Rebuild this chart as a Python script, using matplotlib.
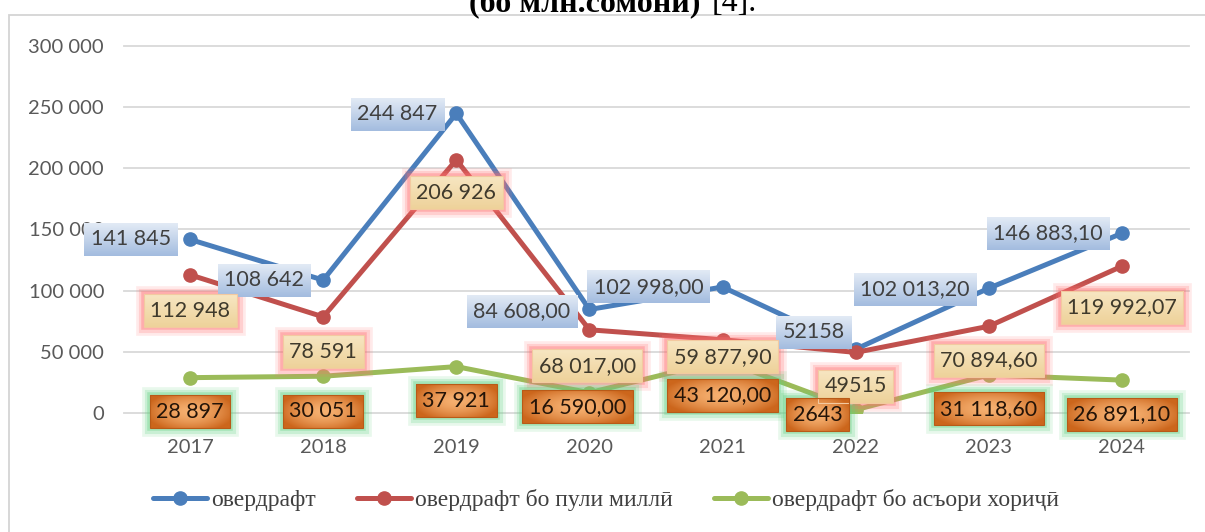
import numpy as np
import matplotlib
matplotlib.use("Agg")
import matplotlib.pyplot as plt
from matplotlib.patches import Rectangle
from matplotlib.colors import to_rgb

# =========================
# Data
# =========================

years = ["2017", "2018", "2019", "2020", "2021", "2022", "2023", "2024"]

overdraft = [141845, 108642, 244847, 84608.00, 102998.00, 52158, 102013.20, 146883.10]
overdraft_national = [112948, 78591, 206926, 68017.00, 59877.90, 49515, 70894.60, 119992.07]
overdraft_foreign = [28897, 30051, 37921, 16590.00, 43120.00, 2643, 31118.60, 26891.10]

labels_overdraft = ["141 845", "108 642", "244 847", "84 608,00", "102 998,00",
                    "52158", "102 013,20", "146 883,10"]
labels_national = ["112 948", "78 591", "206 926", "68 017,00", "59 877,90",
                   "49515", "70 894,60", "119 992,07"]
labels_foreign = ["28 897", "30 051", "37 921", "16 590,00", "43 120,00",
                  "2643", "31 118,60", "26 891,10"]

series_names = ["овердрафт", "овердрафт бо пули миллӣ", "овердрафт бо асъори хориҷӣ"]

y_ticks = [0, 50000, 100000, 150000, 200000, 250000, 300000]
y_tick_labels = ["0", "50 000", "100 000", "150 000", "200 000", "250 000", "300 000"]

# label offsets in pixels (x, y)
off_blue = [(-19, 0), (-19, 0), (-19, -1), (-19, -2), (-19, 0), (-11, 17), (-19, -1), (-19, 0)]
off_red = [(0, -36), (0, -35), (0, -33), (-2, -36), (0, -17), (0, -34), (0, -34), (0, -41)]
off_green = [(0, -34), (0, -35), (0, -34), (-12, -14), (0, -35), (-38, -5), (0, -34), (0, -34)]

blue = "#4a7ebb"
red = "#c0504d"
green = "#9bbb59"

W, H = 1205, 532

fig = plt.figure(figsize=(W / 100, H / 100), dpi=100)
fig.patch.set_facecolor("white")

ax = fig.add_axes([123.5 / W, 119 / H, 1065 / W, 367 / H])

x = np.arange(len(years))

ax.plot(x, overdraft, color=blue, lw=3.6, marker="o", ms=9.5, zorder=3,
        label=series_names[0], solid_capstyle="round")
ax.plot(x, overdraft_national, color=red, lw=3.6, marker="o", ms=9.5, zorder=3,
        label=series_names[1], solid_capstyle="round")
ax.plot(x, overdraft_foreign, color=green, lw=3.6, marker="o", ms=9.5, zorder=3,
        label=series_names[2], solid_capstyle="round")

ax.set_xlim(-0.5, len(years) - 0.5)
ax.set_ylim(0, 300000)

ax.set_yticks(y_ticks)
ax.set_yticklabels(y_tick_labels)
ax.set_xticks(x)
ax.set_xticklabels(years)

ax.yaxis.grid(True, color="#d9d9d9", lw=1.3)
for gl in ax.get_ygridlines():
    gl.set_clip_on(False)
ax.set_axisbelow(True)

for s in ax.spines.values():
    s.set_visible(False)

ax.tick_params(length=0, labelcolor="#595959", labelsize=14.5)
ax.tick_params(axis="y", pad=14)
ax.tick_params(axis="x", pad=19)
for lab in ax.get_xticklabels() + ax.get_yticklabels():
    lab.set_fontfamily("Lato")

# =========================
# Data labels
# =========================

label_font = dict(family="Lato", size=15.5)


def add_labels(values, texts, offsets, ha, color):
    anns = []
    for i in range(len(values)):
        a = ax.annotate(
            texts[i],
            (x[i], values[i]),
            xytext=offsets[i],
            textcoords="offset pixels",
            ha=ha,
            va="center",
            color=color,
            zorder=7,
            annotation_clip=False,
            bbox=dict(boxstyle="square,pad=0.3", fc="none", ec="none"),
            **label_font
        )
        anns.append(a)
    return anns


anns_blue = add_labels(overdraft, labels_overdraft, off_blue, "right", "#404040")
anns_red = add_labels(overdraft_national, labels_national, off_red, "center", "#3f3a2c")
anns_green = add_labels(overdraft_foreign, labels_foreign, off_green, "center", "#241408")

fig.canvas.draw()
renderer = fig.canvas.get_renderer()
inv = ax.transData.inverted()


def vgrad(top, bottom, n=40):
    t = np.linspace(0, 1, n)[:, None, None]
    c0 = np.array(to_rgb(top))[None, None, :]
    c1 = np.array(to_rgb(bottom))[None, None, :]
    return np.repeat(c0 * (1 - t) + c1 * t, 2, axis=1)


def rgrad(center, edge, n=40, m=80):
    yy, xx = np.mgrid[-1:1:n * 1j, -1:1:m * 1j]
    d = np.clip(np.sqrt(xx ** 2 * 0.8 + yy ** 2 * 0.6), 0, 1)[:, :, None] ** 1.6
    c0 = np.array(to_rgb(center))[None, None, :]
    c1 = np.array(to_rgb(edge))[None, None, :]
    return c0 * (1 - d) + c1 * d


def decorate(anns, img, glow, edge):
    for a in anns:
        bb = a.get_bbox_patch().get_window_extent(renderer)
        (x0, y0), (x1, y1) = inv.transform([[bb.x0, bb.y0], [bb.x1, bb.y1]])
        if glow is not None:
            for lw, al in [(12, 0.14), (8, 0.22), (4, 0.35)]:
                r = Rectangle((x0, y0), x1 - x0, y1 - y0, fill=False, ec=glow,
                              lw=lw, alpha=al, zorder=4, clip_on=False)
                ax.add_patch(r)
        im = ax.imshow(img, extent=(x0, x1, y0, y1), aspect="auto",
                       interpolation="bilinear", zorder=5)
        im.set_clip_on(False)
        if edge is not None:
            r = Rectangle((x0, y0), x1 - x0, y1 - y0, fill=False, ec=edge,
                          lw=0.8, zorder=6, clip_on=False)
            ax.add_patch(r)


decorate(anns_blue, vgrad("#e2eaf5", "#a3bcdf"), None, None)
decorate(anns_red, vgrad("#f7e6c2", "#eed29a"), "#ff6f6f", "#f3c9a0")
decorate(anns_green, rgrad("#f6b070", "#cc661c"), "#5fd17f", "#b85a18")

ax.set_xlim(-0.5, len(years) - 0.5)
ax.set_ylim(0, 300000)

# =========================
# Legend, title, frame
# =========================

handles, names = ax.get_legend_handles_labels()
fig.legend(
    handles,
    names,
    loc="center",
    bbox_to_anchor=(606 / W, 1 - 500 / H),
    ncol=3,
    frameon=False,
    handlelength=2.3,
    handletextpad=0.15,
    columnspacing=1.75,
    prop=dict(family=["Liberation Serif", "DejaVu Serif"], size=17),
    labelcolor="#404040",
)

fig.text(700 / W, 1 - 11 / H, "(бо млн.сомонӣ)", ha="right", va="baseline",
         fontsize=23, fontweight="bold", family=["Liberation Serif", "DejaVu Serif"])
fig.text(712 / W, 1 - 11 / H, "[4].", ha="left", va="baseline",
         fontsize=23, family=["Liberation Serif", "DejaVu Serif"])

fig.add_artist(Rectangle((9 / W, -0.2), 1.5, 1.2 - 15 / H, transform=fig.transFigure,
                         fill=False, ec="#d4d4d4", lw=1.3))

fig.savefig("out.png", dpi=100)
